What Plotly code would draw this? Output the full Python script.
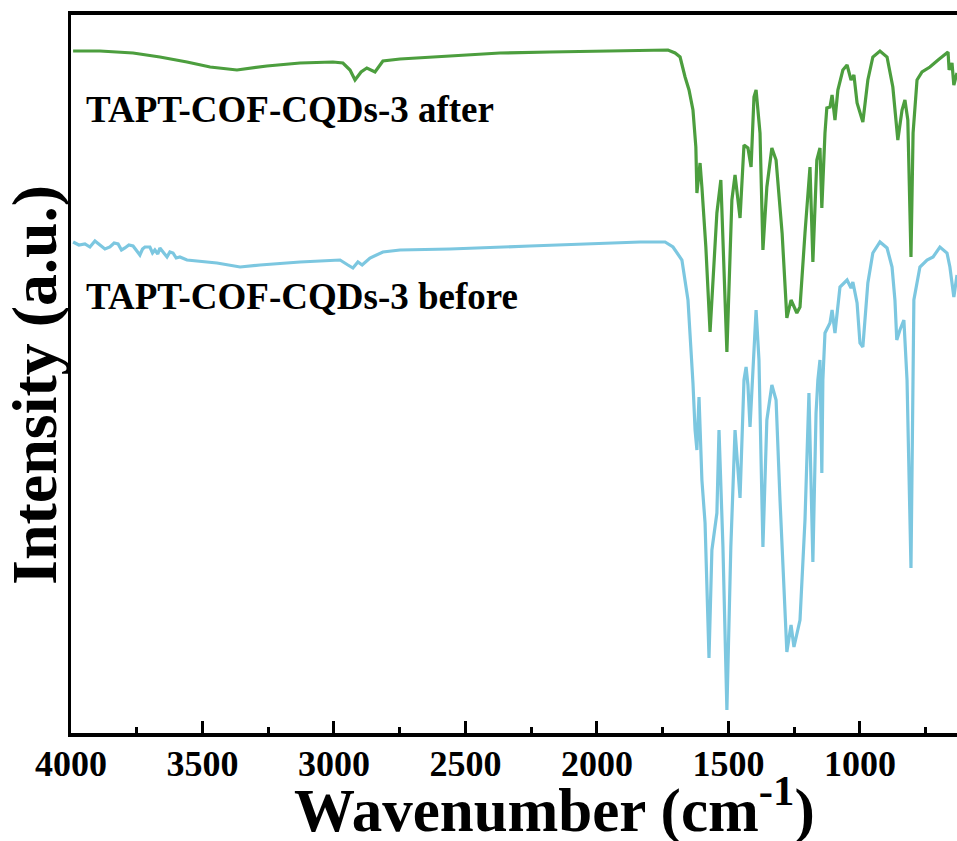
import plotly.graph_objects as go

# FTIR spectra (wavenumber in cm^-1, intensity in arbitrary units)
after_wn = [3992, 3890, 3764, 3662, 3559, 3471, 3369, 3255, 3129, 3004, 2966, 2939, 2920, 2897,
            2875, 2859, 2844, 2814, 2749, 2559, 2369, 2179, 1989, 1836, 1730, 1703, 1684, 1665,
            1650, 1635, 1624, 1620, 1608, 1601, 1586, 1570, 1551, 1544, 1529, 1521, 1506, 1487,
            1475, 1456, 1441, 1426, 1414, 1403, 1395, 1380, 1369, 1354, 1335, 1319, 1296, 1278,
            1262, 1240, 1228, 1209, 1190, 1179, 1164, 1152, 1145, 1133, 1126, 1114, 1106, 1095,
            1084, 1065, 1049, 1034, 1023, 1011, 989, 970, 951, 924, 897, 875, 856, 840, 829, 818,
            806, 798, 783, 764, 734, 703, 665, 661, 650, 643, 631]
after_int = [682, 682, 680, 676, 671, 666, 663, 667, 670, 671, 670, 663, 653, 661,
             665, 663, 661, 672, 674, 677, 680, 681, 682, 683, 683, 680, 676, 656,
             643, 623, 586, 540, 570, 546, 486, 401, 483, 520, 553, 500, 381, 533,
             558, 515, 588, 585, 566, 636, 643, 600, 483, 546, 585, 573, 500, 415,
             433, 420, 426, 500, 566, 471, 573, 585, 525, 600, 625, 626, 638, 613,
             643, 663, 668, 653, 658, 630, 611, 653, 676, 682, 676, 646, 593, 623, 633, 613,
             476, 600, 653, 661, 666, 673, 681, 663, 670, 648, 660]

before_wn = [3992, 3970, 3947, 3928, 3909, 3890, 3871, 3852, 3836, 3821, 3808, 3795, 3780, 3764,
             3749, 3738, 3728, 3719, 3700, 3690, 3681, 3670, 3662, 3646, 3635, 3624, 3612, 3600,
             3586, 3559, 3510, 3445, 3357, 3281, 3129, 2977, 2947, 2928, 2909,
             2893, 2863, 2814, 2749, 2559, 2255, 1989, 1836, 1741, 1711, 1677, 1654, 1635, 1627,
             1620, 1612, 1601, 1589, 1574, 1563, 1544, 1536, 1521, 1506, 1491, 1475, 1456, 1441,
             1433, 1426, 1418, 1407, 1395, 1384, 1369, 1354, 1335, 1319, 1304, 1278, 1262, 1251,
             1228, 1209, 1194, 1179, 1167, 1160, 1152, 1145, 1141, 1133, 1114, 1106, 1095, 1076,
             1049, 1034, 1027, 1011, 1000, 989, 970, 951, 924, 897, 878, 867, 860, 848, 833, 821,
             806, 795, 772, 745, 722, 696, 669, 658, 643, 631]
before_int = [491, 488, 489, 486, 492, 488, 484, 486, 490, 489, 483, 485, 488, 487,
              481, 478, 484, 486, 486, 480, 483, 479, 485, 479, 476, 481, 480, 475,
              476, 473, 472, 470, 466, 468, 471, 473, 468, 465, 471,
              468, 475, 481, 483, 484, 487, 490, 491, 491, 486, 473, 433, 350, 303,
              283, 336, 253, 210, 75, 183, 220, 303, 186, 23, 186, 303, 235, 353,
              366, 348, 306, 363, 423, 373, 186, 313, 348, 333, 233, 81, 108, 86,
              113, 213, 340, 171, 320, 353, 373, 260, 353, 400, 410, 423, 400, 446,
              453, 445, 451, 430, 390, 386, 450, 480, 491, 485, 466, 433, 393, 403, 413, 353,
              165, 433, 466, 473, 476, 486, 480, 466, 436, 458]

labels = ["TAPT-COF-CQDs-3 after", "TAPT-COF-CQDs-3 before"]
label_x = [3950, 3950]
label_y = [624, 437]
x_ticks = [4000, 3500, 3000, 2500, 2000, 1500, 1000]
x_title = "Wavenumber (cm<sup>-1</sup>)"
y_title = "Intensity (a.u.)"

FONT = "Liberation Serif"

# plot-area pixel geometry
L, T, B, W = 71, 15, 108, 886
PH = 841 - T - B

fig = go.Figure()
fig.add_trace(go.Scatter(x=after_wn, y=after_int, mode="lines",
                         line=dict(color="#4C9E3E", width=3.2), name=labels[0]))
fig.add_trace(go.Scatter(x=before_wn, y=before_int, mode="lines",
                         line=dict(color="#7CC7E0", width=3.2), name=labels[1]))

for t, xx, yy in zip(labels, label_x, label_y):
    fig.add_annotation(x=xx, y=yy, text="<b>%s</b>" % t, showarrow=False,
                       xanchor="left", yanchor="middle",
                       font=dict(family=FONT, size=37, color="black"))

# axis titles as annotations (positioned in paper coords)
fig.add_annotation(xref="paper", yref="paper", x=(554 - L) / W, y=(841 - B - 806) / PH,
                   text="<b>%s</b>" % x_title, showarrow=False,
                   xanchor="center", yanchor="middle",
                   font=dict(family=FONT, size=61, color="black"))
fig.add_annotation(xref="paper", yref="paper", x=(34 - L) / W, y=(841 - B - 385) / PH,
                   text="<b>%s</b>" % y_title, showarrow=False, textangle=-90,
                   xanchor="center", yanchor="middle",
                   font=dict(family=FONT, size=64, color="black"))

fig.update_layout(
    width=957, height=841,
    margin=dict(l=L, r=0, t=T, b=B),
    paper_bgcolor="white", plot_bgcolor="white",
    showlegend=False,
    font=dict(family=FONT, color="black"),
)
fig.update_xaxes(
    range=[4000, 631], tickvals=x_ticks,
    ticktext=["<b>%d</b>" % v for v in x_ticks],
    ticks="inside", ticklen=12, tickwidth=3, tickcolor="black",
    minor=dict(dtick=250, tick0=0, ticks="inside", ticklen=6, tickwidth=3, tickcolor="black"),
    showline=True, linewidth=3.5, linecolor="black", mirror=True,
    showgrid=False, zeroline=False,
    tickfont=dict(family=FONT, size=36, color="black"),
    ticklabelstandoff=-4,
)
fig.update_yaxes(
    range=[0, 718], showticklabels=False, ticks="",
    showline=True, linewidth=3, linecolor="black", mirror=False,
    showgrid=False, zeroline=False,
)

fig.write_html("out.html")
